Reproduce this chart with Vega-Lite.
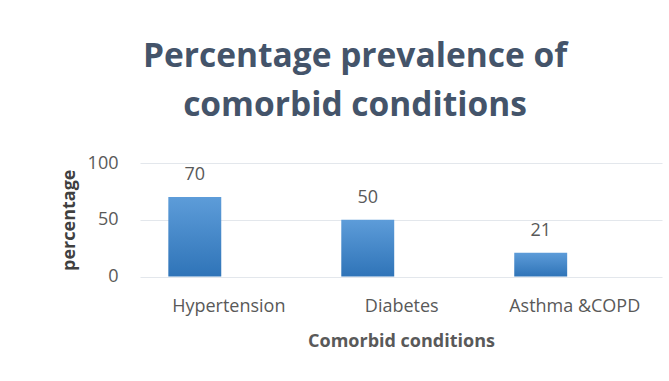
{
  "$schema": "https://vega.github.io/schema/vega-lite/v6.json",
  "autosize": "none",
  "width": 522,
  "height": 113.5,
  "padding": {"left": 140, "top": 163, "right": 7, "bottom": 104.5},
  "background": "white",
  "title": {
    "text": ["Percentage prevalence of", "comorbid conditions"],
    "font": "Open Sans",
    "fontSize": 33.5,
    "fontWeight": "bold",
    "color": "#44546A",
    "lineHeight": 49,
    "anchor": "middle",
    "frame": "group",
    "dx": -46,
    "offset": 31
  },
  "data": {
    "values": [
      {"condition": "Hypertension", "percentage": 70},
      {"condition": "Diabetes", "percentage": 50},
      {"condition": "Asthma &COPD", "percentage": 21}
    ]
  },
  "encoding": {
    "x": {
      "field": "condition",
      "type": "nominal",
      "sort": null,
      "scale": {"paddingInner": 0.694, "paddingOuter": 0.356, "align": 0.23},
      "axis": {
        "title": "Comorbid conditions",
        "labelAngle": 0,
        "labelOffset": 34,
        "labelPadding": 21,
        "labelFont": "Open Sans",
        "labelFontSize": 18,
        "labelColor": "#595959",
        "domain": false,
        "ticks": false,
        "titleFont": "Open Sans",
        "titleFontSize": 18,
        "titleFontWeight": "bold",
        "titleColor": "#595959",
        "titlePadding": 17
      }
    },
    "y": {
      "field": "percentage",
      "type": "quantitative",
      "scale": {"domain": [0, 100], "nice": false},
      "axis": {
        "title": "percentage",
        "values": [0, 50, 100],
        "grid": true,
        "gridColor": "#e3e7ec",
        "gridWidth": 1.2,
        "domain": false,
        "ticks": false,
        "labelPadding": 22,
        "labelFont": "Open Sans",
        "labelFontSize": 18,
        "labelColor": "#595959",
        "titleFont": "Open Sans",
        "titleFontSize": 18,
        "titleFontWeight": "bold",
        "titleColor": "#404040",
        "titlePadding": 9
      }
    }
  },
  "layer": [
    {
      "mark": {
        "type": "bar",
        "color": {
          "gradient": "linear",
          "x1": 0, "y1": 0, "x2": 0, "y2": 1,
          "stops": [
            {"offset": 0, "color": "#5d9cd9"},
            {"offset": 1, "color": "#2f74b8"}
          ]
        }
      }
    },
    {
      "mark": {
        "type": "text",
        "baseline": "bottom",
        "dy": -13,
        "font": "Open Sans",
        "fontSize": 18,
        "color": "#595959"
      },
      "encoding": {"text": {"field": "percentage", "type": "quantitative"}}
    }
  ],
  "config": {"view": {"stroke": null}}
}
